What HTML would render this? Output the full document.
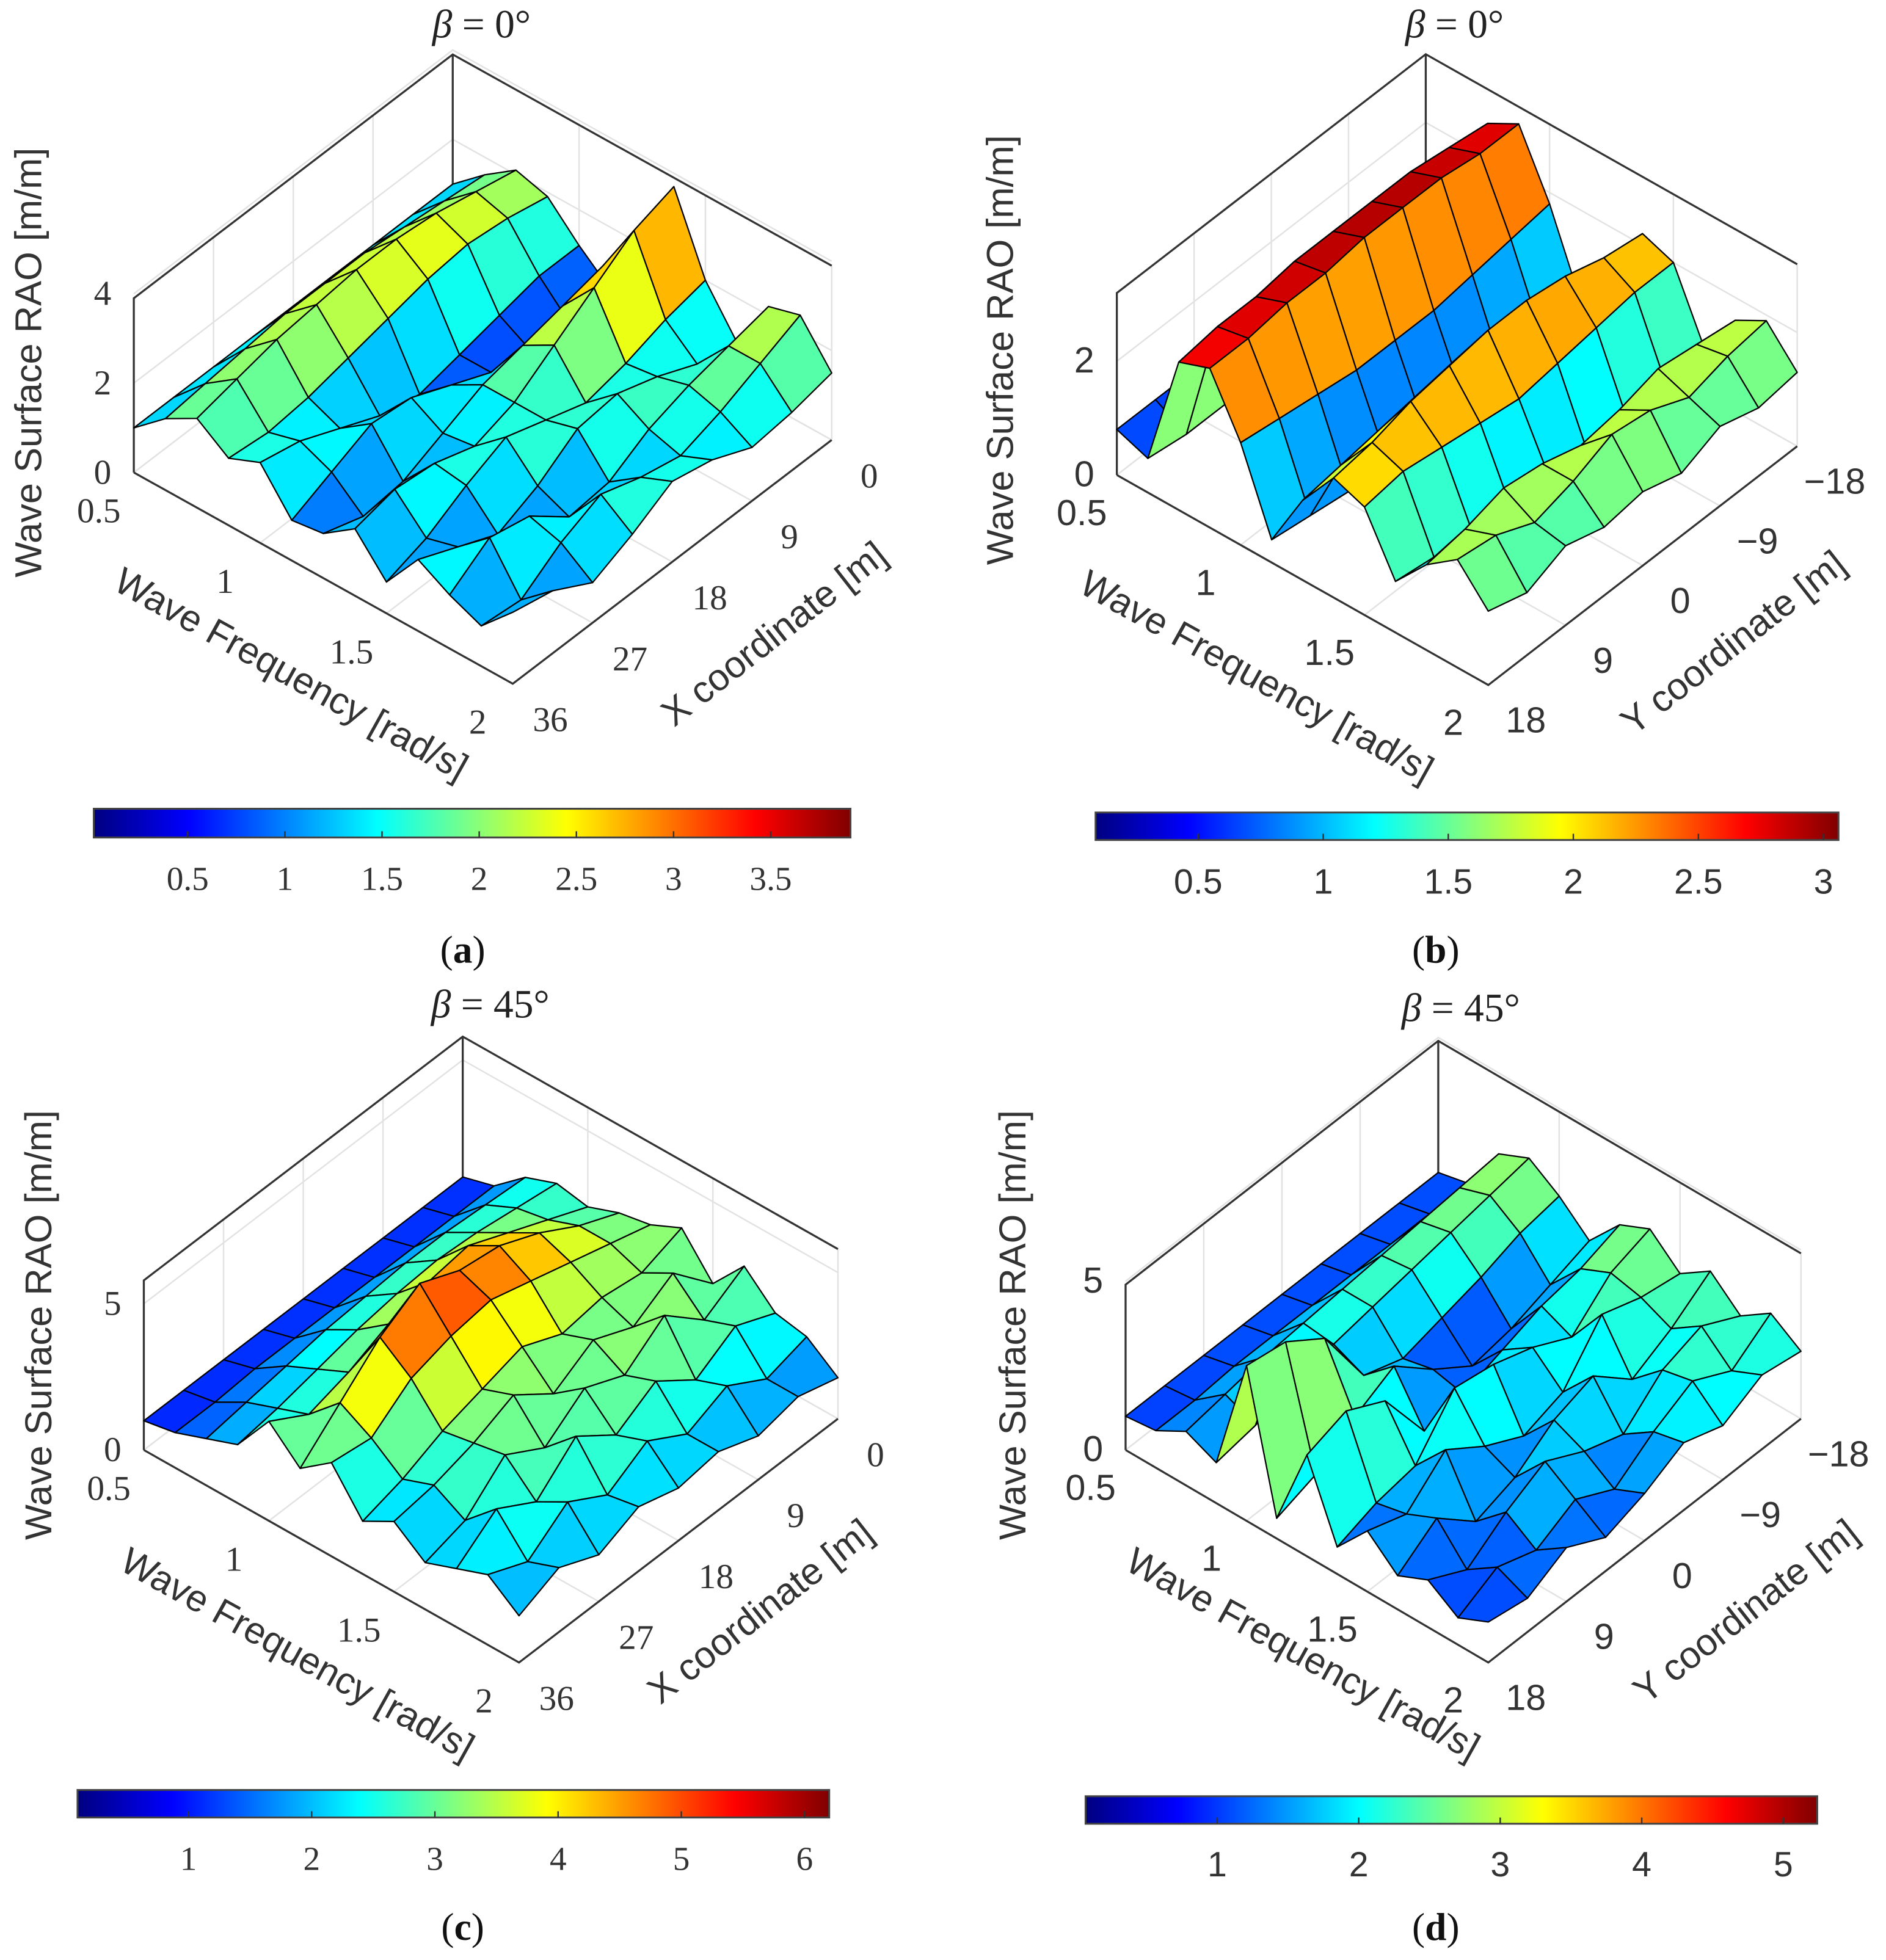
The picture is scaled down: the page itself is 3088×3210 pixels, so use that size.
<!DOCTYPE html>
<html><head><meta charset="utf-8"><style>
html,body{margin:0;padding:0;background:#fff}
svg{display:block}
</style></head><body>
<svg id="fig" width="3088" height="3210" viewBox="0 0 1508 1568" preserveAspectRatio="none" xmlns="http://www.w3.org/2000/svg">
<defs id="defs"></defs>
<g id="root"></g>
</svg>
<script>
// ---- data ----
const freqs = [0.5,0.625,0.75,0.875,1.0,1.125,1.25,1.375,1.5,1.625,1.75,1.875,2.0];
const xCoords = [0,4.5,9,13.5,18,22.5,27,31.5,36];
const yCoords = [-18,-13.5,-9,-4.5,0,4.5,9,13.5,18];
const raoA = [
[1.0,1.6,2.1,1.9,1.2,0.6,2.4,3.7,2.0,1.0,2.2,2.4,1.5],
[1.0,1.7,2.3,2.1,1.2,0.5,2.2,3.4,1.8,1.2,2.0,2.0,1.3],
[1.0,1.8,2.5,2.2,1.0,0.6,2.0,2.8,1.5,1.6,1.8,1.6,1.2],
[1.0,1.9,2.6,2.1,0.8,0.8,1.8,2.2,1.3,1.9,1.5,1.3,1.6],
[1.0,1.9,2.6,1.9,0.6,1.2,1.6,1.6,1.6,1.8,1.0,1.5,1.8],
[1.0,1.9,2.5,1.7,0.8,1.6,1.2,1.3,1.9,1.2,0.9,1.8,1.3],
[1.0,1.8,2.4,1.5,1.2,1.7,0.8,1.6,1.5,0.8,1.6,1.4,0.9],
[1.0,1.7,2.2,1.4,1.6,1.3,0.7,1.7,1.0,1.2,1.8,0.8,1.4],
[1.0,1.6,2.0,1.5,1.8,0.9,1.0,1.5,0.7,1.6,1.2,0.9,1.6]];
const raoB = [
[0.8,0.6,2.6,2.9,1.8,0.4,1.4,2.2,2.0,0.8,1.6,1.9,1.3],
[0.8,0.5,2.7,2.9,1.7,0.3,1.5,2.3,2.0,0.7,1.7,1.8,1.2],
[0.8,0.5,2.8,3.0,1.6,0.2,1.6,2.5,1.9,0.6,1.8,1.6,1.4],
[0.8,0.5,2.8,3.0,1.5,0.2,1.7,2.6,1.8,0.5,1.6,1.9,1.1],
[0.8,0.5,2.8,3.0,1.5,0.2,1.8,2.6,1.7,0.6,1.5,2.0,1.3],
[0.8,0.5,2.8,2.9,1.5,0.2,1.7,2.5,1.8,0.6,1.7,1.7,1.2],
[0.8,0.5,2.7,2.9,1.6,0.2,1.6,2.4,1.9,0.7,1.8,1.5,1.4],
[0.8,0.5,2.7,2.8,1.7,0.3,1.5,2.2,2.0,0.8,1.6,1.8,1.1],
[0.8,0.6,2.6,2.8,1.8,0.4,1.4,2.1,1.9,0.9,1.5,1.9,1.3]];
const raoC = [
[1.0,1.3,2.2,2.6,2.4,2.8,3.0,3.5,2.2,3.4,2.4,2.2,1.4],
[1.0,1.3,2.3,2.8,3.0,3.4,3.4,3.0,3.6,2.6,3.0,1.8,1.8],
[1.0,1.3,2.4,3.0,3.6,4.2,3.8,3.2,2.8,3.8,2.2,2.6,1.5],
[1.0,1.3,2.4,3.1,4.2,4.8,4.2,3.0,3.4,2.8,3.2,2.0,2.0],
[1.0,1.3,2.3,3.0,4.0,5.0,4.6,3.6,2.6,3.4,2.4,2.8,1.8],
[1.0,1.3,2.2,2.8,3.6,5.6,4.4,3.2,3.6,2.4,3.4,2.0,2.2],
[1.0,1.3,2.0,2.5,3.0,4.8,4.0,2.8,3.0,3.2,2.2,2.8,1.6],
[1.0,1.2,1.8,2.2,2.6,3.6,3.0,2.2,2.6,2.0,3.0,1.8,2.2],
[1.0,1.2,1.6,2.0,3.4,2.4,3.2,1.8,2.4,1.6,2.0,2.4,1.6]];
const raoD = [
[1.0,1.2,2.6,3.0,2.4,1.6,2.6,3.0,2.2,2.8,2.0,2.6,2.0],
[1.0,1.2,2.5,2.8,2.2,1.2,2.2,2.6,2.4,2.0,2.6,1.8,2.2],
[1.0,1.2,2.4,2.6,1.8,0.8,2.0,1.6,2.8,1.4,2.2,2.4,1.6],
[1.0,1.2,2.3,2.4,1.5,0.6,1.6,2.2,1.4,2.4,1.2,1.8,2.0],
[1.0,1.2,2.2,2.2,1.2,1.4,1.2,2.6,1.0,2.0,1.6,1.0,1.4],
[1.0,1.2,2.1,2.0,1.6,2.4,1.0,2.8,1.6,1.2,2.2,1.6,1.0],
[1.0,1.2,2.0,1.8,3.6,1.8,2.8,1.4,2.4,0.8,1.6,1.0,1.6],
[1.0,1.1,1.8,1.4,4.4,1.0,3.4,1.2,1.4,1.8,0.8,1.4,1.0],
[1.0,1.1,1.6,1.2,4.6,0.6,3.0,0.8,1.8,1.0,1.4,0.8,1.2]];
const freqTicks = [0.5,1,1.5,2];
const xTicks = [0,9,18,27,36];
const yTicks = [-18,-9,0,9,18];
const zTicksA = [0,2,4], zTicksB = [0,2], zTicksC = [0,5], zTicksD = [0,5];
const cbTicksA = [0.5,1,1.5,2,2.5,3,3.5];
const cbTicksB = [0.5,1,1.5,2,2.5,3];
const cbTicksC = [1,2,3,4,5,6];
const cbTicksD = [1,2,3,4,5];

const NS = "http://www.w3.org/2000/svg";
const root = document.getElementById('root');
const defs = document.getElementById('defs');
function mk(tag, attrs, parent){ const e=document.createElementNS(NS,tag); for(const k in attrs) e.setAttribute(k,attrs[k]); (parent||root).appendChild(e); return e; }
function jet(t){ t=Math.max(0,Math.min(1,t)); const c=v=>Math.round(255*Math.max(0,Math.min(1,v)));
  return `rgb(${c(1.5-Math.abs(4*t-3))},${c(1.5-Math.abs(4*t-2))},${c(1.5-Math.abs(4*t-1))})`; }

const SERIF = '"Liberation Serif", serif', SANS = '"Liberation Sans", sans-serif';
const panels = [
 {id:'a', data:raoA, pos:xCoords, posTicks:xTicks, vf:p=>1-p/36, L:[107,378], F:[410,547], B:[362,183], zs:35.75, zmax:3.9, zt:zTicksA, cmin:0.017, cmax:3.91, font:SERIF, hTitle:'X coordinate [m]', fT:[228,548], hT:[625,515], zT:[25,290], title:'β = 0°', tp:[385,30], lab:[370,770], cb:[75,647,680,670], cbt:cbTicksA, cby:712},
 {id:'b', data:raoB, pos:yCoords, posTicks:yTicks, vf:p=>(18-p)/36, L:[893,380], F:[1190,548], B:[1140,189], zs:45.5, zmax:3.2, zt:zTicksB, cmin:0.09, cmax:3.06, font:SANS, hTitle:'Y coordinate [m]', fT:[1000,550], hT:[1392,522], zT:[802,280], title:'β = 0°', tp:[1163,30], lab:[1148,770], cb:[876,650,1470,672], cbt:cbTicksB, cby:715},
 {id:'c', data:raoC, pos:xCoords, posTicks:xTicks, vf:p=>1-p/36, L:[115,1160], F:[415,1330], B:[370,965], zs:23.4, zmax:5.8, zt:zTicksC, cmin:0.1, cmax:6.2, font:SERIF, hTitle:'X coordinate [m]', fT:[233,1332], hT:[614,1297], zT:[33,1060], title:'β = 45°', tp:[392,814], lab:[370,1552], cb:[62,1432,663,1454], cbt:cbTicksC, cby:1496},
 {id:'d', data:raoD, pos:yCoords, posTicks:yTicks, vf:p=>(18-p)/36, L:[900,1160], F:[1190,1330], B:[1150,965], zs:27, zmax:4.9, zt:zTicksD, cmin:0.07, cmax:5.24, font:SANS, hTitle:'Y coordinate [m]', fT:[1037,1332], hT:[1402,1297], zT:[812,1060], title:'β = 45°', tp:[1168,817], lab:[1148,1552], cb:[868,1437,1453,1459], cbt:cbTicksD, cby:1501}
];

const grad = mk('linearGradient',{id:'jetg',x1:'0',x2:'1',y1:'0',y2:'0'},defs);
for(let i=0;i<=16;i++){ mk('stop',{offset:(i/16),'stop-color':jet(i/16)},grad); }

panels.forEach(P=>{
  const g = mk('g',{});
  
  
  const uf = f=>(f-0.5)/1.5;
  function proj(u,v,z){ return [P.L[0]+u*(P.F[0]-P.L[0])+v*(P.B[0]-P.L[0]), P.L[1]+u*(P.F[1]-P.L[1])+v*(P.B[1]-P.L[1]) - z*P.zs]; }
  const R = [P.F[0]+P.B[0]-P.L[0], P.F[1]+P.B[1]-P.L[1]];
  const walls = mk('g',{},g);
  
  
  const gl = {stroke:'#e2e2e2','stroke-width':1.2,fill:'none'};
  freqTicks.forEach(f=>{ const a=proj(uf(f),1,0), b=proj(uf(f),1,P.zmax), c=proj(uf(f),0,0);
    mk('line',Object.assign({x1:a[0],y1:a[1],x2:b[0],y2:b[1]},gl),walls);
    mk('line',Object.assign({x1:a[0],y1:a[1],x2:c[0],y2:c[1]},gl),walls); });
  P.posTicks.forEach(p=>{ const v=P.vf(p); const a=proj(0,v,0), b=proj(0,v,P.zmax), c=proj(1,v,0);
    mk('line',Object.assign({x1:a[0],y1:a[1],x2:b[0],y2:b[1]},gl),walls);
    mk('line',Object.assign({x1:a[0],y1:a[1],x2:c[0],y2:c[1]},gl),walls); });
  P.zt.forEach(z=>{ const a=proj(0,0,z), b=proj(0,1,z), c=proj(1,1,z);
    mk('polyline',Object.assign({points:`${a} ${b} ${c}`},gl),walls); });
  const ax = {stroke:'#333','stroke-width':1.6,fill:'none'};
  const lt=proj(0,0,P.zmax), bt=proj(0,1,P.zmax), rt=proj(1,1,P.zmax), bb=proj(0,1,0);
  mk('polyline',Object.assign({points:`${P.L} ${lt} ${bt} ${rt}`},ax),walls);
  mk('line',Object.assign({x1:bb[0],y1:bb[1],x2:bt[0],y2:bt[1]},ax),walls);
  mk('polyline',Object.assign({points:`${P.L} ${P.F} ${R}`},ax),walls);

  const surf = mk('g',{},g);
  
  
  const quads=[];
  for(let r=0;r<P.pos.length-1;r++) for(let c=0;c<freqs.length-1;c++){
    const pts=[[r,c],[r,c+1],[r+1,c+1],[r+1,c]];
    let zs=0,us=0,vs=0; const xy=pts.map(([rr,cc])=>{ const u=uf(freqs[cc]), v=P.vf(P.pos[rr]), z=P.data[rr][cc]; zs+=z; us+=u; vs+=v; return proj(u,v,z); });
    quads.push({xy, z:zs/4, key:(us-vs)/4});
  }
  quads.sort((a,b)=>a.key-b.key);
  quads.forEach(q=>{
    const e=mk('polygon',{points:q.xy.map(p=>p[0].toFixed(1)+','+p[1].toFixed(1)).join(' '),fill:jet((q.z-P.cmin)/(P.cmax-P.cmin)),stroke:'#000','stroke-width':1.1,'stroke-linejoin':'round'},surf);
    
    
  });

  const tk = mk('g',{'font-family':P.font,'font-size':P.font===SERIF?28:29,fill:'#333'},g);
  
  
  freqTicks.forEach(f=>{ const p=proj(uf(f),0,0); const t=mk('text',{x:p[0]-28,y:p[1]+40,'text-anchor':'middle'},tk); t.textContent=String(f); });
  P.posTicks.forEach(x=>{ const p=proj(1,P.vf(x),0); const t=mk('text',{x:p[0]+30,y:p[1]+38,'text-anchor':'middle'},tk); t.textContent=String(x).replace('-','\u2212'); });
  P.zt.forEach(z=>{ const p=proj(0,0,z); const t=mk('text',{x:p[0]-18,y:p[1]+9,'text-anchor':'end'},tk); t.textContent=String(z); });
  const tt={'font-family':SANS,'font-size':30,fill:'#333','text-anchor':'middle'};
  let e=mk('text',Object.assign({x:P.fT[0],y:P.fT[1],transform:`rotate(29 ${P.fT[0]} ${P.fT[1]})`},tt),g); e.textContent='Wave Frequency [rad/s]';
   
  e=mk('text',Object.assign({x:P.hT[0],y:P.hT[1],transform:`rotate(-38 ${P.hT[0]} ${P.hT[1]})`},tt),g); e.textContent=P.hTitle;
   
  e=mk('text',Object.assign({x:P.zT[0],y:P.zT[1],transform:`rotate(-90 ${P.zT[0]} ${P.zT[1]})`,'dominant-baseline':'middle'},tt),g); e.textContent='Wave Surface RAO [m/m]';
   
  e=mk('text',{x:P.tp[0],y:P.tp[1],'font-family':SERIF,'font-size':32,'text-anchor':'middle',fill:'#222'},g);
  e.innerHTML='<tspan font-style="italic">β</tspan> = '+P.title.split('= ')[1];
   
  e=mk('text',{x:P.lab[0],y:P.lab[1],'font-family':SERIF,'font-size':31,'text-anchor':'middle',fill:'#111'},g);
  e.innerHTML='(<tspan font-weight="bold">'+P.id+'</tspan>)';
   

  const cbg = mk('g',{},g);
  
  
  const [x0,y0,x1,y1]=P.cb;
  mk('rect',{x:x0,y:y0,width:x1-x0,height:y1-y0,fill:'url(#jetg)',stroke:'#444','stroke-width':1.5},cbg);
  const cx=v=>x0+(v-P.cmin)/(P.cmax-P.cmin)*(x1-x0);
  P.cbt.forEach(v=>{ const X=cx(v);
    mk('line',{x1:X,y1:y1,x2:X,y2:y1-5,stroke:'#333','stroke-width':1.2},cbg);
    const t=mk('text',{x:X,y:P.cby,'text-anchor':'middle','font-family':P.font,'font-size':P.font===SERIF?27:28,fill:'#333'},cbg); t.textContent=String(v); });
});
</script>
</body></html>
